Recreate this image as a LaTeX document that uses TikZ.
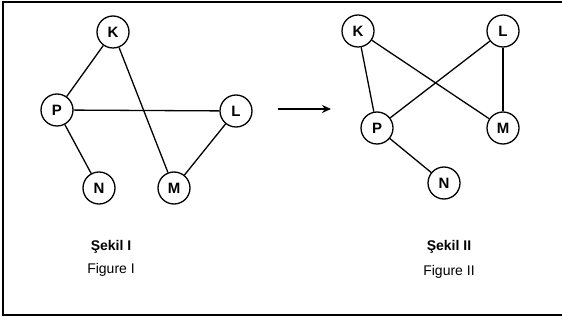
\documentclass[tikz,border=0pt]{standalone}
\usepackage{fontspec}
\setmainfont{Liberation Sans}
\usetikzlibrary{arrows.meta}
\begin{document}
\begin{tikzpicture}[x=1pt,y=-1pt,
  vtx/.style={circle,draw,line width=1.3pt,minimum size=32pt,inner sep=0pt,font=\fontsize{15}{15}\selectfont\bfseries},
  edge/.style={line width=1.3pt},
  captext/.style={font=\fontsize{14}{15}\selectfont},
  capbold/.style={font=\fontsize{14}{15}\selectfont\bfseries}]
\useasboundingbox (0,0) rectangle (562,320);
\draw[line width=1.6pt] (600,2) -- (3,2) -- (3,315) -- (600,315);
% Figure I
\node[vtx] (K1) at (113,32) {K};
\node[vtx] (P1) at (57,110) {P};
\node[vtx] (L1) at (236,111) {L};
\node[vtx] (N1) at (99,188) {N};
\node[vtx] (M1) at (174,188) {M};
\draw[edge] (K1) -- (P1);
\draw[edge] (K1) -- (M1);
\draw[edge] (P1) -- (L1);
\draw[edge] (P1) -- (N1);
\draw[edge] (L1) -- (M1);
\node[capbold] (S1) at (111,247) {Şekil I};
\node[captext] (F1) at (111,270) {Figure I};
% arrow
\coordinate (A0) at (278,109);
\coordinate (A1) at (331,109);
\draw[line width=1.6pt,-{Stealth[length=9pt,width=8pt]}] (A0) -- (A1);
% Figure II
\node[vtx] (K2) at (358,31) {K};
\node[vtx] (L2) at (503,31) {L};
\node[vtx] (P2) at (377,128) {P};
\node[vtx] (M2) at (503,128) {M};
\node[vtx] (N2) at (444,183) {N};
\draw[edge] (K2) -- (P2);
\draw[edge] (K2) -- (M2);
\draw[edge] (L2) -- (P2);
\draw[edge] (L2) -- (M2);
\draw[edge] (P2) -- (N2);
\node[capbold] (S2) at (449,247) {Şekil II};
\node[captext] (F2) at (449,272) {Figure II};
\end{tikzpicture}
\end{document}
